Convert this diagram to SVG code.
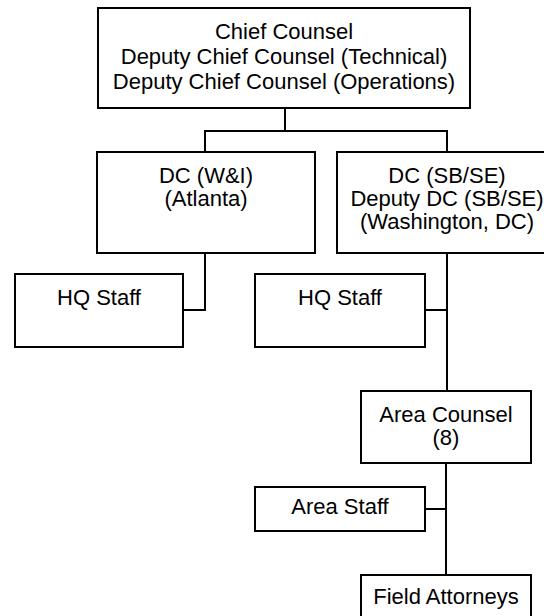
<svg xmlns="http://www.w3.org/2000/svg" width="544" height="616" viewBox="0 0 544 616">
<style>
.box{fill:#fff;stroke:#000;stroke-width:2}
.ln{fill:none;stroke:#000;stroke-width:2}
text{font-family:"Liberation Sans",Arial,sans-serif;font-size:22px;fill:#000;text-anchor:middle}
</style>
<rect width="544" height="616" fill="#fff"/>
<g id="connectors">
<polyline class="ln" points="285,108 285,131"/>
<polyline class="ln" points="205,152 205,131 447,131 447,152"/>
<polyline class="ln" points="205,253 205,310 183,310"/>
<polyline class="ln" points="447,253 447,391"/>
<polyline class="ln" points="425,310 447,310"/>
<polyline class="ln" points="446,463 446,575"/>
<polyline class="ln" points="425,509 446,509"/>
</g>
<g id="chief">
<rect class="box" x="98" y="8" width="372" height="100"/>
<text x="284" y="39">Chief Counsel</text>
<text x="284" y="64">Deputy Chief Counsel (Technical)</text>
<text x="284" y="89">Deputy Chief Counsel (Operations)</text>
</g>
<g id="dc-wi">
<rect class="box" x="97" y="152" width="218" height="101"/>
<text x="206" y="183">DC (W&amp;I)</text>
<text x="206" y="206">(Atlanta)</text>
</g>
<g id="dc-sbse">
<rect class="box" x="337" y="152" width="220" height="101"/>
<text x="447" y="183">DC (SB/SE)</text>
<text x="447" y="206">Deputy DC (SB/SE)</text>
<text x="447" y="229">(Washington, DC)</text>
</g>
<g id="hq-staff-wi">
<rect class="box" x="15" y="274" width="168" height="73"/>
<text x="99" y="305">HQ Staff</text>
</g>
<g id="hq-staff-sbse">
<rect class="box" x="255" y="274" width="170" height="73"/>
<text x="340" y="305">HQ Staff</text>
</g>
<g id="area-counsel">
<rect class="box" x="361" y="391" width="170" height="72"/>
<text x="446" y="422">Area Counsel</text>
<text x="446" y="445">(8)</text>
</g>
<g id="area-staff">
<rect class="box" x="255" y="487" width="170" height="44"/>
<text x="340" y="514">Area Staff</text>
</g>
<g id="field-attorneys">
<rect class="box" x="361" y="575" width="170" height="60"/>
<text x="446" y="604">Field Attorneys</text>
</g>
</svg>
